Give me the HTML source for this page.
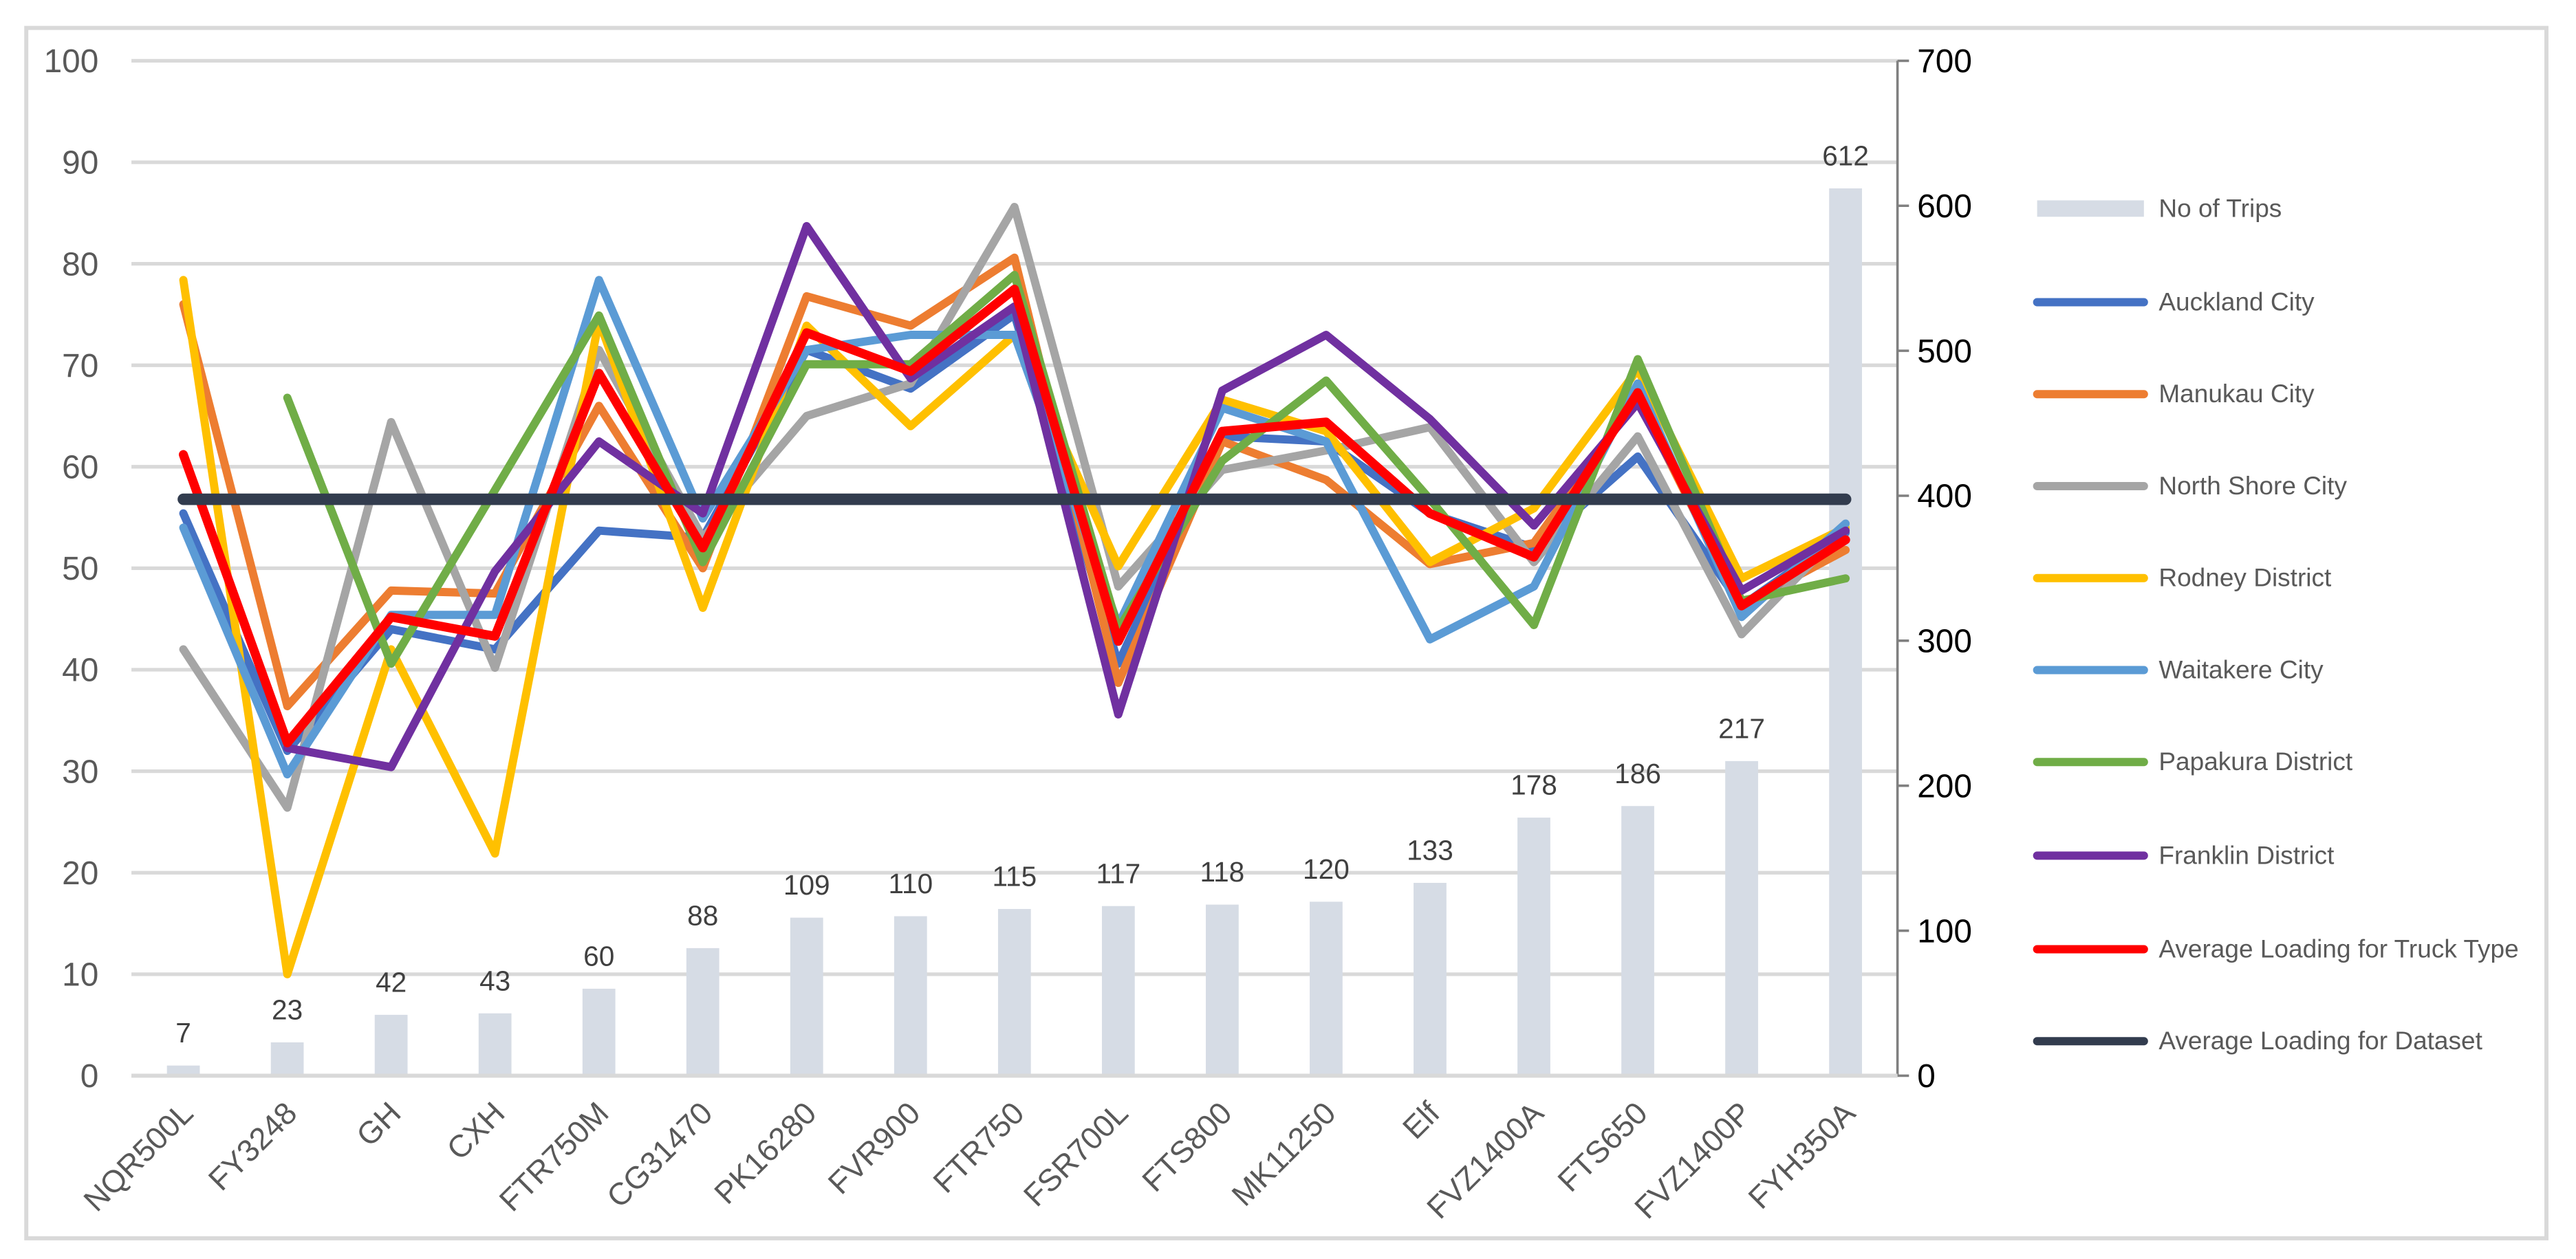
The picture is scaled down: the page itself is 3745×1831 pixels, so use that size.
<!DOCTYPE html>
<html><head><meta charset="utf-8"><style>
html,body{margin:0;padding:0;background:#fff;}
svg{display:block;font-family:"Liberation Sans",sans-serif;}
</style></head><body>
<svg id="chart" width="3745" height="1831" viewBox="0 0 1568 766.6" xmlns="http://www.w3.org/2000/svg">
<rect x="16" y="17" width="1534" height="737" fill="#fff" stroke="#d9d9d9" stroke-width="2.5"/>
<g id="grid"></g><g id="bars"></g><g id="lines"></g><g id="axes"></g><g id="legend"></g>
</svg>
<script>
const categories=["NQR500L","FY3248","GH","CXH","FTR750M","CG31470","PK16280","FVR900","FTR750","FSR700L","FTS800","MK11250","Elf","FVZ1400A","FTS650","FVZ1400P","FYH350A"];
const trips=[7,23,42,43,60,88,109,110,115,117,118,120,133,178,186,217,612];
const auckland=[55.4,32,44,42,53.7,53,71.5,67.7,75,40.6,63,62.5,55.4,52,61,46.3,53.5];
const manukau=[76,36.4,47.8,47.5,66,50,76.8,73.9,80.6,38.7,62.5,58.7,50.4,52.5,66.8,46.3,51.8];
const northShore=[42,26.4,64.4,40.2,71.5,53,65,68.2,85.6,48.2,59.7,61.6,63.9,50.6,63,43.5,54];
const rodney=[78.4,10,42,21.9,74.4,46.1,73.9,64,73,50.2,66.6,63.5,50.6,55.9,69.6,49,54];
const waitakere=[54,29.7,45.4,45.4,78.4,54.9,71.5,73,73,44.4,65.8,62.5,43,48.2,68.2,45.2,54.4];
const papakura=[null,66.8,40.6,57.7,74.9,50.6,70.1,70.1,78.9,44,60.6,68.5,56.8,44.4,70.6,46.8,49];
const franklin=[null,32.3,30.4,49.7,62.5,55.4,83.7,68.7,75.8,35.6,67.5,73,64.7,54.2,66.3,47.8,53.7];
const avgTruck=[61.2,32.8,45.2,43.3,69.2,52,73.2,69.4,77.5,42.8,63.5,64.4,55.4,51.1,67.3,46.3,52.8];
const avgDataset=[56.8,56.8,56.8,56.8,56.8,56.8,56.8,56.8,56.8,56.8,56.8,56.8,56.8,56.8,56.8,56.8,56.8];
const leftTicks=[0,10,20,30,40,50,60,70,80,90,100];
const rightTicks=[0,100,200,300,400,500,600,700];
const seriesNames=["Auckland City","Manukau City","North Shore City","Rodney District","Waitakere City","Papakura District","Franklin District","Average Loading for Truck Type","Average Loading for Dataset"];
const seriesData=[auckland,manukau,northShore,rodney,waitakere,papakura,franklin,avgTruck,avgDataset];
const colors=["#4472C4","#ED7D31","#A5A5A5","#FFC000","#5B9BD5","#70AD47","#7030A0","#FF0000","#323C4E"];

const NS="http://www.w3.org/2000/svg";
const X0=80,X1=1155,Y0=655,Y1=37;
const band=(X1-X0)/categories.length;
const xs=i=>X0+band*(i+0.5);
const yL=v=>Y0-(v/100)*(Y0-Y1);
const yR=v=>Y0-(v/700)*(Y0-Y1);
function mk(tag,attrs,parent){const e=document.createElementNS(NS,tag);for(const k in attrs)e.setAttribute(k,attrs[k]);parent.appendChild(e);return e;}
const grid=document.getElementById('grid'),bars=document.getElementById('bars'),lines=document.getElementById('lines'),axes=document.getElementById('axes'),legend=document.getElementById('legend');

leftTicks.forEach(t=>{
  const l=mk('line',{x1:X0,x2:X1,y1:yL(t),y2:yL(t),stroke:'#d9d9d9','stroke-width':2.2},grid);
  
  
  const tx=mk('text',{x:60,y:yL(t)+7,'text-anchor':'end','font-size':20,fill:'#595959'},axes);
  tx.textContent=t;
  
  
});
const ra=mk('line',{x1:X1,x2:X1,y1:Y1,y2:Y0,stroke:'#808080','stroke-width':1.5},axes);


rightTicks.forEach(t=>{
  mk('line',{x1:X1,x2:X1+7,y1:yR(t),y2:yR(t),stroke:'#808080','stroke-width':1.5},axes);
  const tx=mk('text',{x:X1+12,y:yR(t)+7,'font-size':20,fill:'#000'},axes);
  tx.textContent=t;
  
  
});
trips.forEach((v,i)=>{
  const bw=20;
  const r=mk('rect',{x:xs(i)-bw/2,y:yR(v),width:bw,height:Y0-yR(v),fill:'#D6DCE5'},bars);
  
  
  const tx=mk('text',{x:xs(i),y:yR(v)-14,'text-anchor':'middle','font-size':17,fill:'#404040'},bars);
  tx.textContent=v;
  
  
  const lb=mk('text',{x:0,y:0,'text-anchor':'end','font-size':19,fill:'#595959',transform:`translate(${xs(i)+7},${Y0+24}) rotate(-45)`},axes);
  lb.textContent=categories[i];
  
  
});
const bl=mk('line',{x1:X0,x2:X1,y1:Y0,y2:Y0,stroke:'#d9d9d9','stroke-width':2.5},axes);



seriesData.forEach((d,s)=>{
  let pts=[];
  d.forEach((v,i)=>{if(v!==null)pts.push(xs(i).toFixed(1)+','+yL(v).toFixed(1));});
  const p=mk('polyline',{points:pts.join(' '),fill:'none',stroke:colors[s],'stroke-width':s===8?7:(s===7?5.5:5),'stroke-linejoin':'round','stroke-linecap':'round'},lines);
  
  
});

const legY=[127,184,240,296,352,408,464,521,578,634];
const names=["No of Trips"].concat(seriesNames);
const lcolors=["#D6DCE5"].concat(colors);
names.forEach((n,i)=>{
  const g=mk('g',{},legend);
  
  
  mk('line',{x1:1240,x2:1305,y1:legY[i],y2:legY[i],stroke:lcolors[i],'stroke-width':i===0?10:5,'stroke-linecap':i===0?'butt':'round'},g);
  const t=mk('text',{x:1314,y:legY[i]+5,'font-size':15.5,fill:'#595959'},g);
  t.textContent=n;
});
</script>
</body></html>
